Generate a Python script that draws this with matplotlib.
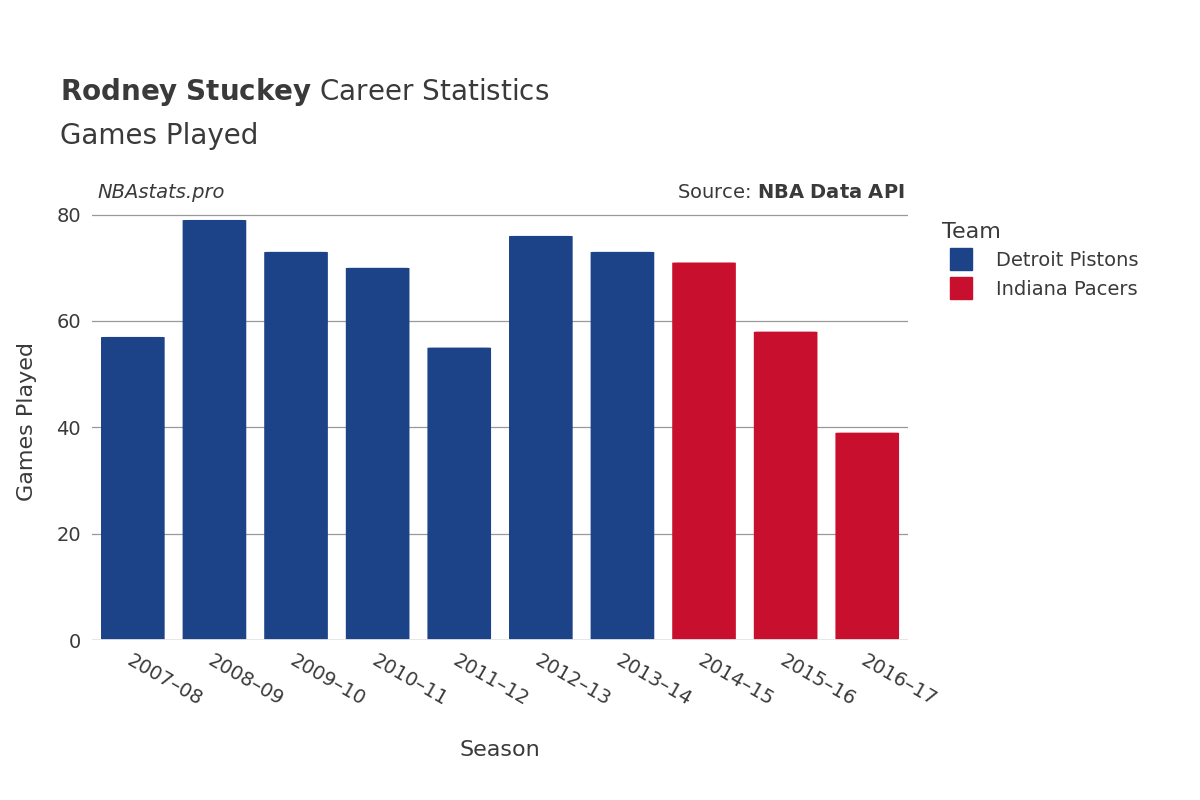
import matplotlib.pyplot as plt
from matplotlib.patches import FancyBboxPatch
from matplotlib.lines import Line2D

seasons = ['2007–08', '2008–09', '2009–10', '2010–11', '2011–12',
           '2012–13', '2013–14', '2014–15', '2015–16', '2016–17']
games = [57, 79, 73, 70, 55, 76, 73, 71, 58, 39]
teams = ['Detroit Pistons'] * 7 + ['Indiana Pacers'] * 3
team_colors = {'Detroit Pistons': '#1c4287', 'Indiana Pacers': '#c8102e'}
txt = '#3a3a3a'

fig = plt.figure(figsize=(12, 8), dpi=100)
ax = fig.add_axes([0.0767, 0.2, 0.68, 0.545])

w = 0.78
for i, (g, t) in enumerate(zip(games, teams)):
    ax.add_patch(FancyBboxPatch((i - w / 2, 0), w, g,
                                boxstyle='round,pad=0,rounding_size=0.08',
                                mutation_aspect=5.3 / 81.6 * 10,
                                fc=team_colors[t], ec='none', zorder=3))

ax.set_xlim(-0.5, len(seasons) - 0.5)
ax.set_ylim(0, 82)
ax.set_yticks([0, 20, 40, 60, 80])
ax.set_xticks(range(len(seasons)))
ax.set_xticklabels(seasons, rotation=-30, ha='left', rotation_mode='anchor')
ax.tick_params(axis='both', length=0, labelsize=14, colors=txt, pad=8)
ax.grid(axis='y', color='#999999', lw=0.9, zorder=0)
for s in ax.spines.values():
    s.set_visible(False)
ax.axhline(0, color='#e6e6e6', lw=2, zorder=4)

ax.set_xlabel('Season', fontsize=16, color=txt, labelpad=22)
ax.set_ylabel('Games Played', fontsize=16, color=txt, labelpad=14)

fig.text(0.05, 0.875, r'$\bf{Rodney\ Stuckey}$ Career Statistics', fontsize=20, color=txt)
fig.text(0.05, 0.82, 'Games Played', fontsize=20, color=txt)
fig.text(0.081, 0.752, 'NBAstats.pro', fontsize=14, color=txt, style='italic')
fig.text(0.754, 0.752, r'Source: $\bf{NBA\ Data\ API}$', fontsize=14, color=txt, ha='right')

handles = [Line2D([0], [0], marker='s', ls='', ms=16, color=c) for c in team_colors.values()]
leg = fig.legend(handles, list(team_colors.keys()), title='Team', loc='upper left',
                 bbox_to_anchor=(0.77, 0.745), frameon=False, fontsize=14,
                 title_fontsize=16, labelcolor=txt, handletextpad=0.8)
leg.get_title().set_color(txt)
leg._legend_box.align = 'left'

fig.savefig('out.png')
